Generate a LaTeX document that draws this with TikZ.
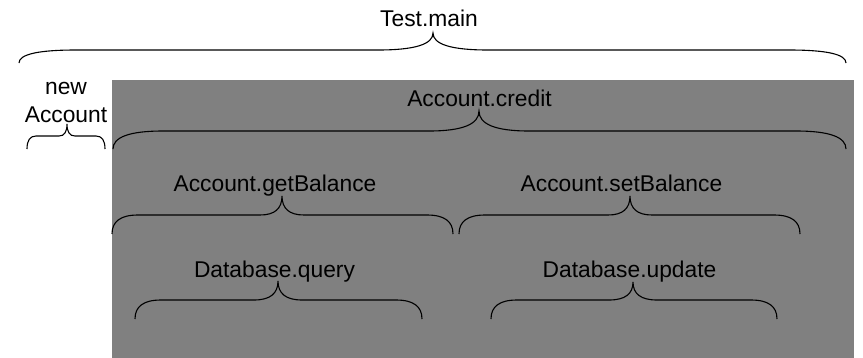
\documentclass[tikz,border=0pt]{standalone}
\usepackage{fontspec}
\setmainfont{Liberation Sans}
\definecolor{panelgray}{RGB}{128,128,128}
\tikzset{
  bracestyle/.style={draw=black, line width=1.1pt},
  lbl/.style={anchor=base, inner sep=0pt, text=black, font=\fontsize{22.8}{28}\selectfont},
  panel/.style={fill=panelgray, draw=none}
}
% #1 x0, #2 x1, #3 xm, #4 ybottom, #5 yline, #6 ytip, #7 end width, #8 mid width
\newcommand\cbrace[8]{%
  \draw[bracestyle] (#1,#4)
    .. controls (#1,{#4+2/3*(#5-#4)}) and ({#1+#7/3},#5) .. ({#1+#7},#5)
    -- ({#3-#8},#5)
    .. controls ({#3-#8/3},#5) and (#3,{#6+2/3*(#5-#6)}) .. (#3,#6)
    .. controls (#3,{#6+2/3*(#5-#6)}) and ({#3+#8/3},#5) .. ({#3+#8},#5)
    -- ({#2-#7},#5)
    .. controls ({#2-#7/3},#5) and (#2,{#4+2/3*(#5-#4)}) .. (#2,#4);}
\begin{document}
\begin{tikzpicture}[x=1pt,y=-1pt]
\useasboundingbox (0,0) rectangle (863,357);
\fill[panel] (112,80) rectangle (854,358);
% labels
\node[lbl] (testmain) at (429,26) {Test.main};
\node[lbl] (newacc1) at (66,94) {new};
\node[lbl] (newacc2) at (66,122) {Account};
\node[lbl] (credit) at (479.5,106) {Account.credit};
\node[lbl] (getbal) at (275,191) {Account.getBalance};
\node[lbl] (setbal) at (621.5,191) {Account.setBalance};
\node[lbl] (query) at (274.5,277) {Database.query};
\node[lbl] (update) at (629.5,277) {Database.update};
% braces
\cbrace{19}{846}{433}{63}{50}{33}{57}{55}
\cbrace{27}{105}{67}{149}{136}{124}{9}{8}
\cbrace{113}{846}{479}{149}{131}{111}{50}{50}
\cbrace{112}{453}{282}{234}{215}{196}{26}{22}
\cbrace{459}{800}{630}{234}{215}{196}{26}{22}
\cbrace{135}{422}{278}{319}{300}{281}{26}{24}
\cbrace{491}{777}{633}{319}{300}{282}{26}{24}
\end{tikzpicture}
\end{document}
